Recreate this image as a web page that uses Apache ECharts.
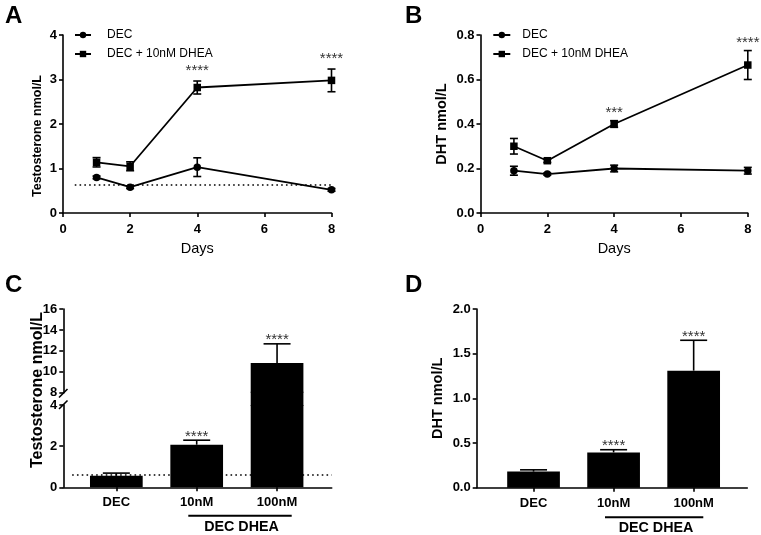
<!DOCTYPE html>
<html>
<head>
<meta charset="utf-8">
<script src="https://cdn.jsdelivr.net/npm/echarts@6.0.0/dist/echarts.min.js"></script>
<style>
html,body{margin:0;padding:0;background:#fff;}
#chart{width:761px;height:535px;}
</style>
</head>
<body>
<div id="chart"></div>
<script>
// ---------- data ----------
const days = [1, 2, 4, 8];
const seriesNames = ['DEC', 'DEC + 10nM DHEA'];

// Panel A: testosterone time course
const aDecMean = [0.80, 0.58, 1.03, 0.52];
const aDecErr = [0.03, 0.03, 0.21, 0.03];
const aDheaMean = [1.14, 1.05, 2.82, 2.98];
const aDheaErr = [0.105, 0.10, 0.146, 0.255];
const aStars = ['', '', '****', '****'];
const aLoq = 0.64;

// Panel B: DHT time course
const bDecMean = [0.19, 0.175, 0.20, 0.19];
const bDecErr = [0.02, 0.005, 0.015, 0.015];
const bDheaMean = [0.30, 0.235, 0.40, 0.665];
const bDheaErr = [0.035, 0.008, 0.015, 0.065];
const bStars = ['', '', '***', '****'];

// Panels C & D: bar charts
const barCats = ['DEC', '10nM', '100nM'];
const groupLabel = 'DEC DHEA';
const cMean = [0.56, 2.07, 10.83];
const cErr = [0.13, 0.22, 1.84];
const cStars = ['', '****', '****'];
const cLoq = 0.63;
const dMean = [0.18, 0.395, 1.31];
const dErr = [0.02, 0.03, 0.34];
const dStars = ['', '****', '****'];

// ---------- styling helpers ----------
const FONT = '"Liberation Sans", Arial, Helvetica, sans-serif';
const BLACK = '#000';
const axisLine = { show: true, onZero: false, lineStyle: { color: BLACK, width: 1.6 } };
const axisTick = { show: true, length: 4, lineStyle: { color: BLACK, width: 1.6 } };
const tickLabel = (extra) => Object.assign({ color: BLACK, fontWeight: 'bold', fontSize: 13, fontFamily: FONT }, extra || {});

function errSeries(xi, yi, xs, means, errs, stars, opts) {
  return {
    type: 'custom', xAxisIndex: xi, yAxisIndex: yi, z: 3, silent: true,
    data: xs.map((x, i) => [x, means[i], errs[i]]),
    renderItem: function (params, api) {
      const i = params.dataIndex;
      const x = api.value(0), m = api.value(1), e = api.value(2);
      const cs = params.coordSys;
      const top = api.coord([x, m + e]);
      const bot = api.coord([x, opts.both ? m - e : m]);
      const yMin = cs.y, yMax = cs.y + cs.height;
      const hw = opts.cap / 2;
      const st = { stroke: BLACK, lineWidth: opts.lw };
      const children = [];
      if (!(top[1] > yMax + 0.5 || bot[1] < yMin - 0.5)) {
        const ty = Math.max(top[1], yMin), by = Math.min(bot[1], yMax);
        children.push({ type: 'line', shape: { x1: top[0], y1: ty, x2: top[0], y2: by }, style: st });
        if (top[1] >= yMin - 0.5) children.push({ type: 'line', shape: { x1: top[0] - hw, y1: top[1], x2: top[0] + hw, y2: top[1] }, style: st });
        if (opts.both && bot[1] <= yMax + 0.5) children.push({ type: 'line', shape: { x1: bot[0] - hw, y1: bot[1], x2: bot[0] + hw, y2: bot[1] }, style: st });
      }
      const s = stars[i];
      if (s && top[1] >= yMin - 1 && top[1] <= yMax + 0.5) {
        children.push({ type: 'text', style: { text: s, x: top[0], y: top[1] - opts.starGap, align: 'center', verticalAlign: 'bottom', font: '15px ' + FONT, fill: '#333' } });
      }
      return { type: 'group', children: children };
    }
  };
}

function lineSeries(name, xi, yi, means, symbol, loqLine) {
  const s = {
    name: name, type: 'line', xAxisIndex: xi, yAxisIndex: yi, z: 4,
    data: days.map((d, i) => [d, means[i]]),
    symbol: symbol, symbolSize: 7.5, showSymbol: true,
    lineStyle: { color: BLACK, width: 1.8 },
    itemStyle: { color: BLACK, borderWidth: 0 },
    emphasis: { disabled: true }
  };
  if (loqLine) s.markLine = loqLine;
  return s;
}

function loq(value, x0, x1) {
  return {
    silent: true, symbol: 'none', label: { show: false },
    lineStyle: { color: BLACK, type: [1.6, 3.2], width: 1.6 },
    data: [[{ coord: [x0, value] }, { coord: [x1, value] }]]
  };
}

function barSeries(xi, yi, means, loqLine) {
  const s = {
    type: 'bar', xAxisIndex: xi, yAxisIndex: yi, z: 2, barWidth: 52.7,
    data: means.map((v, i) => [i, v]),
    itemStyle: { color: BLACK }, emphasis: { disabled: true }, clip: true
  };
  if (loqLine) s.markLine = loqLine;
  return s;
}

const catFormatter = (v) => barCats[Math.round(v)] || '';

const option = {
  backgroundColor: '#fff',
  animation: false,
  textStyle: { fontFamily: FONT },
  grid: [
    { left: 63, top: 35, width: 268.5, height: 178 },      // A
    { left: 480.5, top: 35, width: 267.3, height: 178 },   // B
    { left: 63.3, top: 405, width: 268.4, height: 82.3 },  // C lower
    { left: 63.3, top: 309, width: 268.4, height: 83.7 },  // C upper
    { left: 476.7, top: 309, width: 270.6, height: 178.7 },// D
    { left: 63.3, top: 391.7, width: 268.4, height: 14.3 } // C break gap (slight overlap)
  ],
  legend: [
    { orient: 'vertical', left: 74, top: 29, padding: 0, itemWidth: 16, itemHeight: 8, itemGap: 7,
      data: seriesNames, textStyle: { fontSize: 12, color: BLACK, fontFamily: FONT, padding: [0, 0, 0, 11] } },
    { orient: 'vertical', left: 492.3, top: 29, padding: 0, itemWidth: 17, itemHeight: 8, itemGap: 7,
      data: seriesNames.map(n => n + ' '), textStyle: { fontSize: 12, color: BLACK, fontFamily: FONT, padding: [0, 0, 0, 7] } }
  ],
  xAxis: [
    { gridIndex: 0, type: 'value', min: 0, max: 8, interval: 2, axisLine, axisTick, splitLine: { show: false },
      axisLabel: tickLabel({ margin: 10 }), name: 'Days', nameLocation: 'middle', nameGap: 28,
      nameTextStyle: { color: BLACK, fontSize: 14.5, fontFamily: FONT } },
    { gridIndex: 1, type: 'value', min: 0, max: 8, interval: 2, axisLine, axisTick, splitLine: { show: false },
      axisLabel: tickLabel({ margin: 10 }), name: 'Days', nameLocation: 'middle', nameGap: 28,
      nameTextStyle: { color: BLACK, fontSize: 14.5, fontFamily: FONT } },
    { gridIndex: 2, type: 'value', min: -0.66, max: 2.68, axisLine, splitLine: { show: false },
      axisTick: Object.assign({}, axisTick, { customValues: [0, 1, 2] }),
      axisLabel: tickLabel({ margin: 9, customValues: [0, 1, 2], formatter: catFormatter }) },
    { gridIndex: 3, type: 'value', min: -0.66, max: 2.68, show: false, splitLine: { show: false } },
    { gridIndex: 4, type: 'value', min: -0.71, max: 2.67, axisLine, splitLine: { show: false },
      axisTick: Object.assign({}, axisTick, { customValues: [0, 1, 2] }),
      axisLabel: tickLabel({ margin: 9, customValues: [0, 1, 2], formatter: catFormatter }) },
    { gridIndex: 5, type: 'value', min: -0.66, max: 2.68, show: false, splitLine: { show: false } }
  ],
  yAxis: [
    { gridIndex: 0, type: 'value', min: 0, max: 4, interval: 1, axisLine, axisTick, splitLine: { show: false },
      axisLabel: tickLabel({ margin: 6 }) },
    { gridIndex: 1, type: 'value', min: 0, max: 0.8, interval: 0.2, axisLine, axisTick, splitLine: { show: false },
      axisLabel: tickLabel({ margin: 6, formatter: v => v.toFixed(1) }),
      name: 'DHT nmol/L', nameLocation: 'middle', nameGap: 31,
      nameTextStyle: { color: BLACK, fontWeight: 'bold', fontSize: 14.5, fontFamily: FONT } },
    { gridIndex: 2, type: 'value', min: 0, max: 4, interval: 2, axisLine, axisTick, splitLine: { show: false },
      axisLabel: tickLabel({ margin: 6 }) },
    { gridIndex: 3, type: 'value', min: 8, max: 16, interval: 2, axisLine, axisTick, splitLine: { show: false },
      axisLabel: tickLabel({ margin: 6 }) },
    { gridIndex: 4, type: 'value', min: 0, max: 2, interval: 0.5, axisLine, axisTick, splitLine: { show: false },
      axisLabel: tickLabel({ margin: 6, formatter: v => v.toFixed(1) }),
      name: 'DHT nmol/L', nameLocation: 'middle', nameGap: 31,
      nameTextStyle: { color: BLACK, fontWeight: 'bold', fontSize: 14.5, fontFamily: FONT } },
    { gridIndex: 5, type: 'value', min: 4, max: 8, show: false, splitLine: { show: false } }
  ],
  series: [
    // Panel A
    errSeries(0, 0, days, aDecMean, aDecErr, ['', '', '', ''], { both: true, cap: 8, lw: 1.6, starGap: 3 }),
    errSeries(0, 0, days, aDheaMean, aDheaErr, aStars, { both: true, cap: 8, lw: 1.6, starGap: 3 }),
    lineSeries(seriesNames[0], 0, 0, aDecMean, 'circle', loq(aLoq, 0.35, 8)),
    lineSeries(seriesNames[1], 0, 0, aDheaMean, 'rect'),
    // Panel B
    errSeries(1, 1, days, bDecMean, bDecErr, ['', '', '', ''], { both: true, cap: 8, lw: 1.6, starGap: 0 }),
    errSeries(1, 1, days, bDheaMean, bDheaErr, bStars, { both: true, cap: 8, lw: 1.6, starGap: 0 }),
    lineSeries(seriesNames[0] + ' ', 1, 1, bDecMean, 'circle'),
    lineSeries(seriesNames[1] + ' ', 1, 1, bDheaMean, 'rect'),
    // Panel C (broken axis: lower + gap + upper grids)
    barSeries(2, 2, cMean, loq(cLoq, -0.55, 2.68)),
    barSeries(3, 3, cMean),
    barSeries(5, 5, cMean),
    errSeries(2, 2, [0, 1, 2], cMean, cErr, cStars, { both: false, cap: 27, lw: 1.6, starGap: -4 }),
    errSeries(3, 3, [0, 1, 2], cMean, cErr, cStars, { both: false, cap: 27, lw: 1.6, starGap: -4 }),
    // Panel D
    barSeries(4, 4, dMean),
    errSeries(4, 4, [0, 1, 2], dMean, dErr, dStars, { both: false, cap: 27, lw: 1.6, starGap: -4 })
  ],
  graphic: [
    { type: 'text', left: 5, top: 4, style: { text: 'A', font: 'bold 24px ' + FONT, fill: BLACK } },
    { type: 'text', left: 405, top: 4, style: { text: 'B', font: 'bold 24px ' + FONT, fill: BLACK } },
    { type: 'text', left: 5, top: 273, style: { text: 'C', font: 'bold 24px ' + FONT, fill: BLACK } },
    { type: 'text', left: 405, top: 273, style: { text: 'D', font: 'bold 24px ' + FONT, fill: BLACK } },
    { type: 'text', x: 37.7, y: 136, rotation: Math.PI / 2,
      style: { text: 'Testosterone nmol/L', font: 'bold 12.5px ' + FONT, fill: BLACK, align: 'center', verticalAlign: 'middle' } },
    { type: 'text', x: 37.7, y: 390, rotation: Math.PI / 2,
      style: { text: 'Testosterone nmol/L', font: 'bold 16px ' + FONT, fill: BLACK, align: 'center', verticalAlign: 'middle' } },
    // broken-axis marks
    { type: 'line', shape: { x1: 59, y1: 397.5, x2: 67.5, y2: 389 }, style: { stroke: BLACK, lineWidth: 1.6 } },
    { type: 'line', shape: { x1: 59, y1: 409, x2: 67.5, y2: 400.5 }, style: { stroke: BLACK, lineWidth: 1.6 } },
    // group underline + label
    { type: 'line', shape: { x1: 188.3, y1: 515.7, x2: 291.7, y2: 515.7 }, style: { stroke: BLACK, lineWidth: 2 } },
    { type: 'text', x: 241.5, y: 527.5, style: { text: groupLabel, font: 'bold 14.3px ' + FONT, fill: BLACK, align: 'center', verticalAlign: 'middle' } },
    { type: 'line', shape: { x1: 605, y1: 517.3, x2: 703.3, y2: 517.3 }, style: { stroke: BLACK, lineWidth: 2 } },
    { type: 'text', x: 656, y: 528.5, style: { text: groupLabel, font: 'bold 14.3px ' + FONT, fill: BLACK, align: 'center', verticalAlign: 'middle' } }
  ]
};

const chart = echarts.init(document.getElementById('chart'), null, { renderer: 'canvas' });
chart.setOption(option);
</script>
</body>
</html>
